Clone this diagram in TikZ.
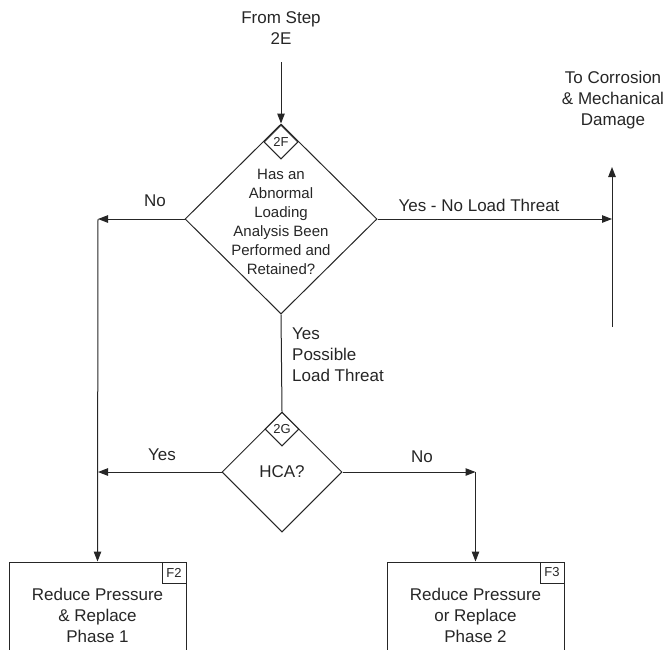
\documentclass[tikz,border=0pt]{standalone}
\usepackage{fontspec}
\setmainfont{Liberation Sans}
\usetikzlibrary{shapes.geometric,arrows.meta,positioning}
\begin{document}
\begin{tikzpicture}[x=1pt,y=-1pt]
    % Define styles for nodes and arrows
    \tikzstyle{decision} = [diamond, draw=black!85, line width=1pt, inner sep=0pt]
    \tikzstyle{stepbox} = [rectangle, draw=black!85, line width=1pt, minimum width=177pt, minimum height=106pt, text centered, align=center, text=black!85, font=\fontsize{17}{21}\selectfont]
    \tikzstyle{tag} = [rectangle, draw=black!85, line width=1pt, minimum width=24pt, minimum height=21pt, inner sep=0pt, text=black!85, font=\fontsize{13}{15}\selectfont]
    \tikzstyle{txt} = [align=center, text=black!85, inner sep=0pt, font=\fontsize{17}{21}\selectfont]
    \tikzstyle{arrow} = [draw=black!85, line width=1pt, -{Triangle[length=10pt,width=7.5pt]}]
    \tikzset{plain/.style={draw=black!85, line width=1pt}}
    \useasboundingbox (0,0) rectangle (668,649);
    \clip (0,0) rectangle (668,649);
    % Nodes
    \node (fromstep) [txt] at (281,28) {From Step\\2E};
    \coordinate (start) at (281,62);
    \node (q2F) [decision, minimum width=192pt, minimum height=190pt] at (281,219) {};
    \node (t2F) [decision, minimum width=34pt, minimum height=34pt, font=\fontsize{13}{15}\selectfont, text=black!85] at (281,142) {2F};
    \node (q2Ftext) [txt, font=\fontsize{15}{19}\selectfont] at (281,222) {Has an\\Abnormal\\Loading\\Analysis Been\\Performed and\\Retained?};
    \node (tocorr) [txt] at (613,100) {To Corrosion\\\& Mechanical\\Damage};
    \coordinate (up) at (612,167);
    \coordinate (upfoot) at (612,327);
    \coordinate (noleft) at (98,219);
    \coordinate (yesright) at (612,219);
    \node (q2G) [decision, minimum width=120pt, minimum height=120pt, font=\fontsize{17}{21}\selectfont, text=black!85] at (282,472) {HCA?};
    \node (t2G) [decision, minimum width=34pt, minimum height=34pt, font=\fontsize{13}{15}\selectfont, text=black!85] at (282,429) {2G};
    \coordinate (yesleft) at (98,472);
    \coordinate (noright) at (475.5,472);
    \node (boxF2) [stepbox] at (97.5,615) {Reduce Pressure\\\& Replace\\Phase 1};
    \node (tagF2) [tag, anchor=north east] at (boxF2.north east) {F2};
    \node (boxF3) [stepbox] at (475.5,615) {Reduce Pressure\\or Replace\\Phase 2};
    \node (tagF3) [tag, anchor=north east] at (boxF3.north east) {F3};
    % Labels
    \node (lNo1) [txt] at (155,201) {No};
    \node (lYesNo) [txt] at (479,205) {Yes - No Load Threat};
    \node (lYesPos) [txt, align=left, anchor=north west] at (292,328) {Yes\\Possible\\Load Threat};
    \node (lYes2) [txt] at (162,455) {Yes};
    \node (lNo2) [txt] at (422,457) {No};
    % Arrows (connections)
    \draw [arrow] (start) -- (q2F.north);
    \draw [arrow] (q2F.west) -- (noleft);
    \draw [arrow] (noleft) -- (boxF2.north);
    \draw [arrow] (q2F.east) -- (yesright);
    \draw [arrow] (upfoot) -- (up);
    \draw [plain] (q2F.south) -- (q2G.north);
    \draw [arrow] (q2G.west) -- (yesleft);
    \draw [arrow] (q2G.east) -- (noright);
    \draw [arrow] (noright) -- (boxF3.north);
\end{tikzpicture}
\end{document}
